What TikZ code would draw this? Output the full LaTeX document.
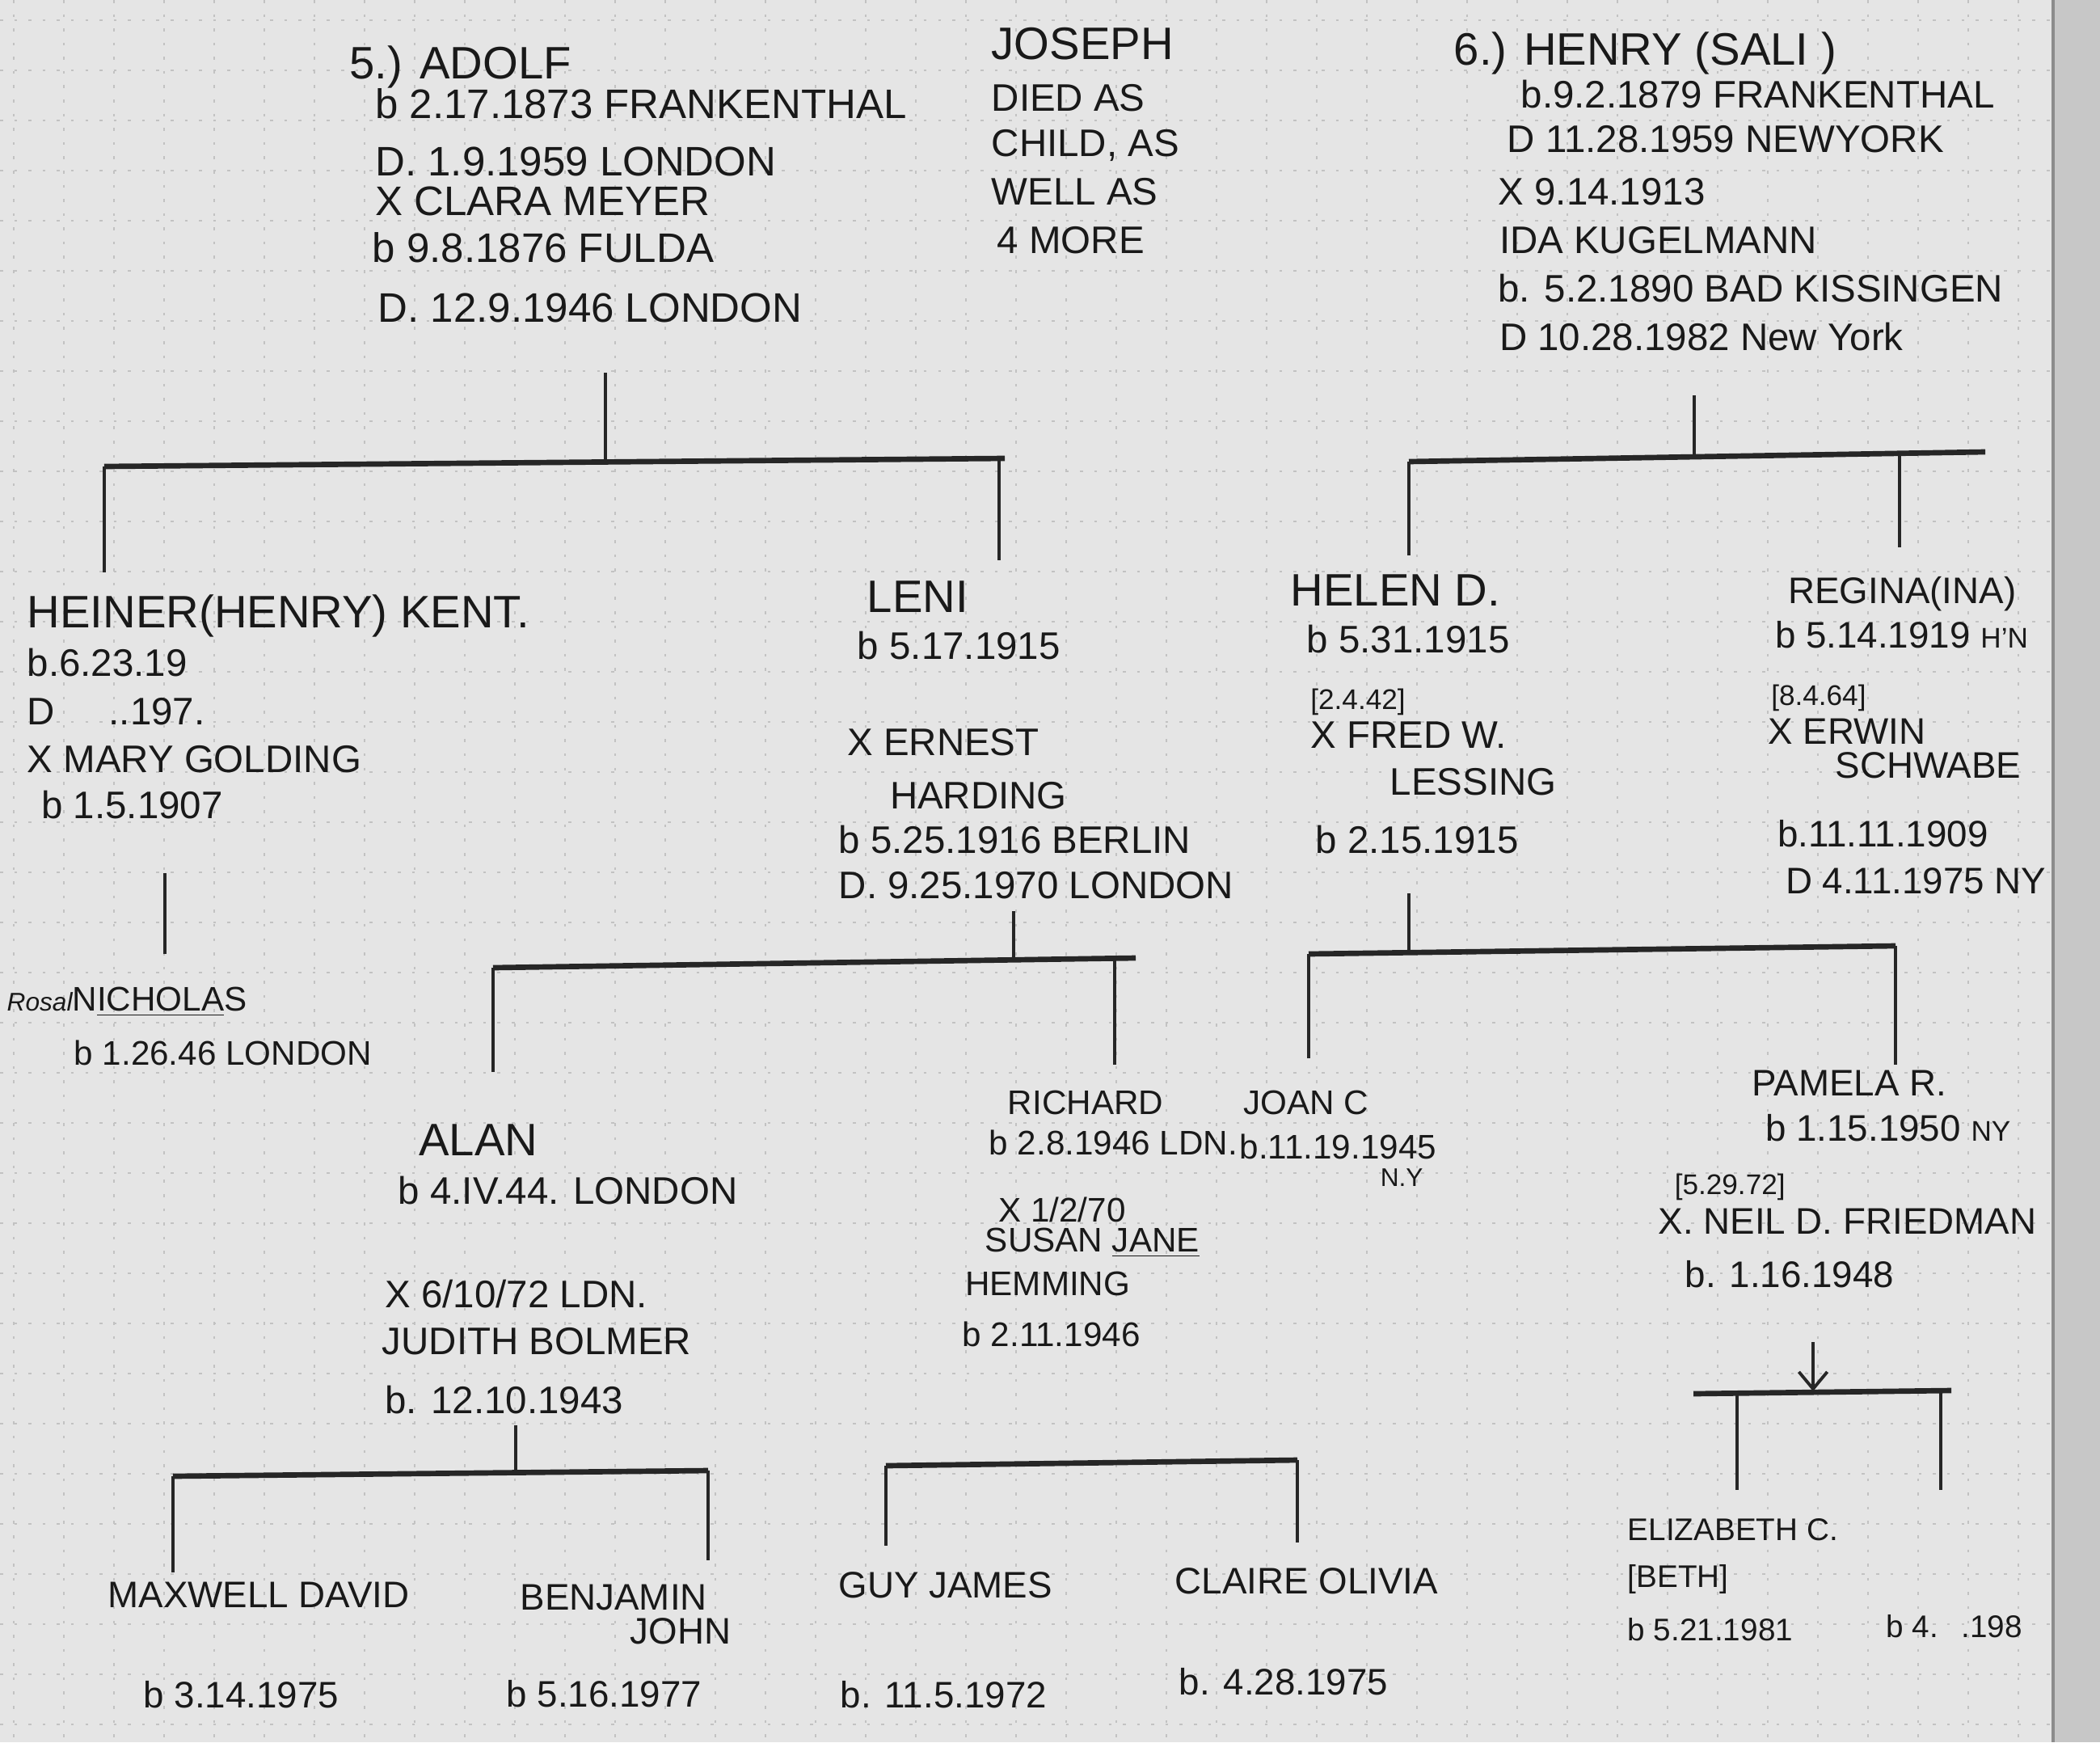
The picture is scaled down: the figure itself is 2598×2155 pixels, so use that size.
\documentclass[tikz,border=0pt]{standalone}
\usepackage{fontspec}
\setmainfont{Liberation Sans}
\usepackage{tikz}
\usetikzlibrary{arrows.meta}
\newcommand{\nm}[1]{{\fontsize{16}{17}\selectfont #1}}
\newcommand{\sm}[1]{{\fontsize{10}{17}\selectfont #1}}

\begin{document}
\begin{tikzpicture}[x=0.01cm, y=-0.01cm,
    person/.style={anchor=north west, align=left, inner sep=0pt, text=black!90, font=\fontsize{13.5}{17}\selectfont},
    stem/.style={line width=1.1pt, black!85},
    bar/.style={line width=1.9pt, black!85},
    gridline/.style={black!24, line width=0.5pt, dash pattern=on 1pt off 4pt},
    >={Straight Barb[length=6pt,width=10pt]}]

    \useasboundingbox (0,0) rectangle (2598,2155);
    \fill[black!10] (0,0) rectangle (2598,2155);
    \fill[black!22] (2540,0) rectangle (2598,2155);
    \draw[black!45, line width=1pt] (2540,0) -- (2540,2155);
    \foreach \gx in {17,79,...,2500} \draw[gridline] (\gx,0) -- (\gx,2155);
    \foreach \gy in {25,87,...,2155} \draw[gridline] (0,\gy) -- (2540,\gy);

    % first generation
    \node[person, font=\fontsize{14.5}{17}\selectfont] (adolf) at (432,56) {\nm{5.) ADOLF}\\[-3pt]
        \hspace*{9pt}b 2.17.1873 FRANKENTHAL\\[3pt]
        \hspace*{9pt}D. 1.9.1959 LONDON\\[-3pt]
        \hspace*{9pt}X CLARA MEYER\\[-0.5pt]
        \hspace*{8pt}b 9.8.1876 FULDA\\[4pt]
        \hspace*{10pt}D. 12.9.1946 LONDON};
    \node[person] (joseph) at (1226,34) {\nm{JOSEPH}\\[1pt]
        DIED AS\\[-1pt]
        CHILD, AS\\
        WELL AS\\
        \hspace*{2pt}4 MORE};
    \node[person] (henry) at (1798,39) {\nm{6.) HENRY (SALI )}\\[-2pt]
        \hspace*{23.6pt}b.9.2.1879 FRANKENTHAL\\[-1.4pt]
        \hspace*{18.8pt}D 11.28.1959 NEWYORK\\[1.7pt]
        \hspace*{15.6pt}X 9.14.1913\\
        \hspace*{16pt}IDA KUGELMANN\\
        \hspace*{15.6pt}b. 5.2.1890 BAD KISSINGEN\\
        \hspace*{16pt}D 10.28.1982 New York};

    % second generation
    \node[person] (heiner) at (33,735) {\nm{HEINER(HENRY) KENT.}\\
        b.6.23.19\\
        D\hspace{19pt}..197.\\
        X MARY GOLDING\\[-1pt]
        \hspace*{5pt}b 1.5.1907};
    \node[person] (leni) at (1037,718) {\hspace*{10pt}\nm{LENI}\\[-0.6pt]
        \hspace*{6.6pt}b 5.17.1915\\[17pt]
        \hspace*{3pt}X ERNEST\\[1.7pt]
        \hspace*{18pt}HARDING\\[-1.4pt]
        b 5.25.1916 BERLIN\\[-1pt]
        D. 9.25.1970 LONDON};
    \node[person] (helen) at (1596,710) {\nm{HELEN D.}\\[-0.6pt]
        \hspace*{5.7pt}b 5.31.1915\\[3.1pt]
        \hspace*{7pt}\sm{[2.4.42]}\\[-3.4pt]
        \hspace*{7pt}X FRED W.\\[-0.6pt]
        \hspace*{35pt}LESSING\\[3.4pt]
        \hspace*{8.8pt}b 2.15.1915};
    \node[person, font=\fontsize{13}{17}\selectfont] (regina) at (2187,713) {\hspace*{7pt}REGINA(INA)\\[-1.4pt]
        \hspace*{2.4pt}b 5.14.1919 \sm{H'N}\\[3.1pt]
        \hspace*{1pt}\sm{[8.4.64]}\\[-3.4pt]
        X ERWIN\\[-5.1pt]
        \hspace*{23.6pt}SCHWABE\\[7.4pt]
        \hspace*{3.3pt}b.11.11.1909\\[-0.6pt]
        \hspace*{6.1pt}D 4.11.1975 NY};

    % third generation
    \node[person, font=\fontsize{12}{17}\selectfont] (nicholas) at (8,1220) {{\fontsize{9}{10}\selectfont\itshape Rosal}N\underline{ICHOLA}S\\[2pt]
        \hspace*{23.6pt}b 1.26.46 LONDON};
    \node[person] (alan) at (472,1390) {\hspace*{13pt}\nm{ALAN}\\
        \hspace*{5.7pt}b 4.IV.44. LONDON\\[19.6pt]
        \hspace*{1pt}X 6/10/72 LDN.\\[-0.6pt]
        JUDITH BOLMER\\[3.7pt]
        \hspace*{1pt}b. 12.10.1943};
    \node[person, font=\fontsize{12}{17}\selectfont] (richard) at (1190,1348) {\hspace*{16pt}RICHARD\\[-2.6pt]
        \hspace*{9.4pt}b 2.8.1946 LDN.\\[6.5pt]
        \hspace*{12.7pt}X 1/2/70\\[-6.5pt]
        \hspace*{8pt}SUSAN \underline{JANE}\\[-1.7pt]
        \hspace*{1pt}HEMMING\\[0.9pt]
        b 2.11.1946};
    \node[person, font=\fontsize{12}{17}\selectfont] (joan) at (1533,1348) {\hspace*{1.4pt}JOAN C\\[-1.4pt]
        b.11.19.1945\\[-7.1pt]
        \hspace*{49.5pt}{\fontsize{9}{10}\selectfont N.Y}};
    \node[person, font=\fontsize{13}{17}\selectfont] (pamela) at (2051,1323) {\hspace*{33pt}PAMELA R.\\[-1.1pt]
        \hspace*{37.7pt}b 1.15.1950 \sm{NY}\\[2pt]
        \hspace*{5.7pt}\sm{[5.29.72]}\\[-3.1pt]
        X. NEIL D. FRIEDMAN\\[1.7pt]
        \hspace*{9.4pt}b. 1.16.1948};

    % fourth generation
    \node[person, font=\fontsize{13}{17}\selectfont] (maxwell) at (133,1956) {MAXWELL DAVID\\[18.3pt]
        \hspace*{12.5pt}b 3.14.1975};
    \node[person, font=\fontsize{13}{17}\selectfont] (benjamin) at (626,1959) {\hspace*{4.8pt}BENJAMIN\\[-5.1pt]
        \hspace*{43.5pt}JOHN\\[5.4pt]
        b 5.16.1977};
    \node[person, font=\fontsize{13}{17}\selectfont] (guy) at (1037,1944) {GUY JAMES\\[21.6pt]
        \hspace*{0.6pt}b. 11.5.1972};
    \node[person, font=\fontsize{13}{17}\selectfont] (claire) at (1453,1939) {CLAIRE OLIVIA\\[18.5pt]
        \hspace*{1.4pt}b. 4.28.1975};
    \node[person, font=\fontsize{11}{17}\selectfont] (elizabeth) at (2013,1878) {ELIZABETH C.\\[-0.6pt]
        [BETH]\\[1.7pt]
        b 5.21.1981};
    \node[person, anchor=base west, font=\fontsize{11}{17}\selectfont] (secondkid) at (2333,2025) {b 4.\hspace{8pt}.198};

    % Adolf's children
    \coordinate (adolfstem) at (749,461);
    \coordinate (adolfjoin) at (749,572);
    \coordinate (adolfL) at (129,577);
    \coordinate (adolfR) at (1243,567);
    \coordinate (heinertop) at (129,708);
    \coordinate (lenitop) at (1236,693);
    \draw[stem] (adolfstem) -- (adolfjoin);
    \draw[bar] (adolfL) -- (adolfR);
    \draw[stem] (adolfL) -- (heinertop);
    \draw[stem] (lenitop |- adolfR) -- (lenitop);

    % Henry's children
    \coordinate (henrystem) at (2096,489);
    \coordinate (henryjoin) at (2096,562);
    \coordinate (henryL) at (1743,571);
    \coordinate (henryR) at (2456,559);
    \coordinate (helentop) at (1743,687);
    \coordinate (reginatop) at (2350,677);
    \draw[stem] (henrystem) -- (henryjoin);
    \draw[bar] (henryL) -- (henryR);
    \draw[stem] (henryL) -- (helentop);
    \draw[stem] (reginatop |- henryR) -- (reginatop);

    % Heiner's son
    \coordinate (heinerstem) at (204,1080);
    \coordinate (nicholastop) at (204,1180);
    \draw[stem] (heinerstem) -- (nicholastop);

    % Leni's children
    \coordinate (lenistem) at (1254,1127);
    \coordinate (lenijoin) at (1254,1187);
    \coordinate (leniL) at (610,1197);
    \coordinate (leniR) at (1405,1185);
    \coordinate (alantop) at (610,1326);
    \coordinate (richardtop) at (1379,1317);
    \draw[stem] (lenistem) -- (lenijoin);
    \draw[bar] (leniL) -- (leniR);
    \draw[stem] (leniL) -- (alantop);
    \draw[stem] (richardtop |- leniR) -- (richardtop);

    % Helen's children
    \coordinate (helenstem) at (1743,1105);
    \coordinate (helenjoin) at (1743,1175);
    \coordinate (helenL) at (1619,1180);
    \coordinate (helenR) at (2345,1170);
    \coordinate (joantop) at (1619,1309);
    \coordinate (pamelatop) at (2345,1317);
    \draw[stem] (helenstem) -- (helenjoin);
    \draw[bar] (helenL) -- (helenR);
    \draw[stem] (helenL) -- (joantop);
    \draw[stem] (helenR) -- (pamelatop);

    % Alan's children
    \coordinate (alanstem) at (638,1763);
    \coordinate (alanjoin) at (638,1822);
    \coordinate (alanL) at (214,1826);
    \coordinate (alanR) at (876,1819);
    \coordinate (maxtop) at (214,1945);
    \coordinate (bentop) at (876,1930);
    \draw[stem] (alanstem) -- (alanjoin);
    \draw[bar] (alanL) -- (alanR);
    \draw[stem] (alanL) -- (maxtop);
    \draw[stem] (alanR) -- (bentop);

    % Richard's children
    \coordinate (richL) at (1096,1813);
    \coordinate (richR) at (1605,1806);
    \coordinate (guytop) at (1096,1912);
    \coordinate (clairetop) at (1605,1908);
    \draw[bar] (richL) -- (richR);
    \draw[stem] (richL) -- (guytop);
    \draw[stem] (richR) -- (clairetop);

    % Pamela's children
    \coordinate (pamstem) at (2243,1660);
    \coordinate (pamjoin) at (2243,1721);
    \coordinate (pamL) at (2095,1724);
    \coordinate (pamR) at (2414,1720);
    \coordinate (elizatop) at (2149,1843);
    \coordinate (kidtop) at (2401,1843);
    \draw[stem, ->] (pamstem) -- (pamjoin);
    \draw[bar] (pamL) -- (pamR);
    \draw[stem] (elizatop |- pamL) -- (elizatop);
    \draw[stem] (kidtop |- pamR) -- (kidtop);
\end{tikzpicture}
\end{document}
